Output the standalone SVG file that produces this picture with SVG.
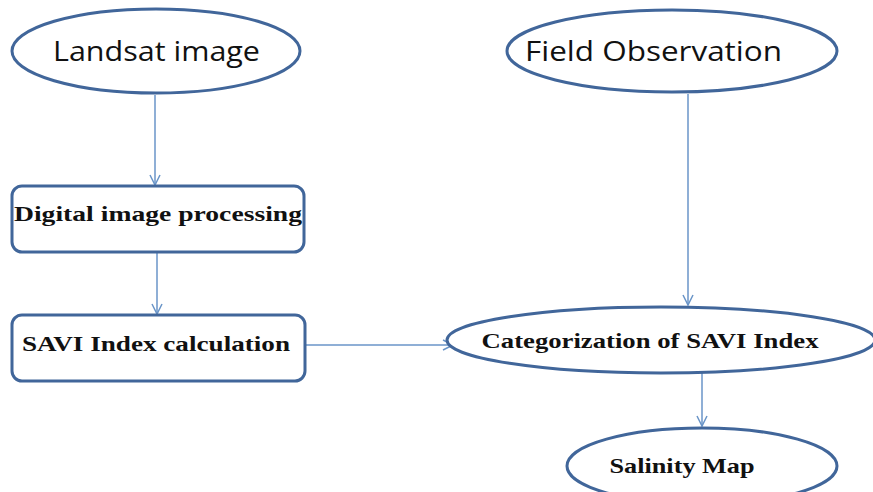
<svg xmlns="http://www.w3.org/2000/svg" width="873" height="492" viewBox="0 0 873 492">
<style>
.node{fill:#fff;stroke:#41669a;stroke-width:3}
.conn{stroke:#6a95c8;stroke-width:1.5;fill:none;marker-end:url(#ah)}
.sans{font-family:"Open Sans","Liberation Sans",sans-serif;font-size:27px;fill:#111}
.serif{font-family:"Liberation Serif","Times New Roman",serif;font-weight:bold;font-size:21px;fill:#111}
</style>
<defs>
<marker id="ah" markerWidth="14" markerHeight="14" refX="11" refY="6" orient="auto" markerUnits="userSpaceOnUse">
<path d="M1,1 L11,6 L1,11" fill="none" stroke="#6a95c8" stroke-width="1.5"/>
</marker>
</defs>
<rect width="873" height="492" fill="#fff"/>
<g id="connectors">
<line class="conn" x1="155" y1="95" x2="155" y2="185"/>
<line class="conn" x1="157" y1="253" x2="157" y2="314"/>
<line class="conn" x1="306" y1="345" x2="453" y2="345"/>
<line class="conn" x1="688" y1="94" x2="688" y2="305"/>
<line class="conn" x1="702" y1="373" x2="702" y2="426"/>
</g>
<g id="landsat">
<ellipse class="node" cx="156" cy="51" rx="144" ry="42"/>
<text class="sans" x="53" y="61" textLength="207" lengthAdjust="spacingAndGlyphs">Landsat image</text>
</g>
<g id="field">
<ellipse class="node" cx="672" cy="51" rx="165" ry="41"/>
<text class="sans" x="525" y="61" textLength="257" lengthAdjust="spacingAndGlyphs">Field Observation</text>
</g>
<g id="digital">
<rect class="node" x="12" y="186" width="292" height="66" rx="10"/>
<text class="serif" x="158" y="221" text-anchor="middle" textLength="288" lengthAdjust="spacingAndGlyphs">Digital image processing</text>
</g>
<g id="savi">
<rect class="node" x="12" y="315" width="293" height="66" rx="10"/>
<text class="serif" x="156" y="351" text-anchor="middle" textLength="268" lengthAdjust="spacingAndGlyphs">SAVI Index calculation</text>
</g>
<g id="categorization">
<ellipse class="node" cx="661" cy="340" rx="214" ry="33"/>
<text class="serif" x="650" y="348" text-anchor="middle" textLength="337" lengthAdjust="spacingAndGlyphs">Categorization of SAVI Index</text>
</g>
<g id="salinity">
<ellipse class="node" cx="702" cy="466" rx="135" ry="38"/>
<text class="serif" x="682" y="473" text-anchor="middle" textLength="145" lengthAdjust="spacingAndGlyphs">Salinity Map</text>
</g>
</svg>
